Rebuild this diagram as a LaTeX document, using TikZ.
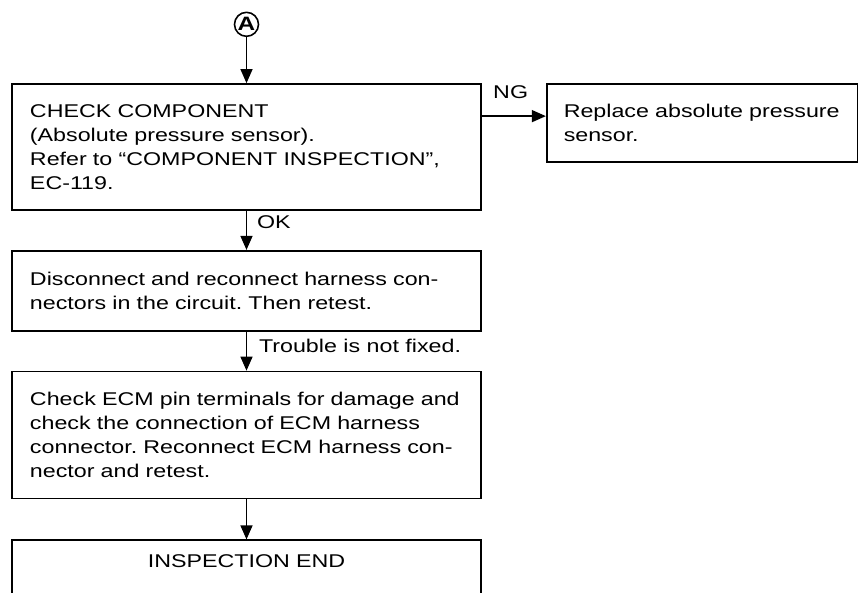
\documentclass[tikz,border=0pt]{standalone}
\usepackage{fontspec}
\setmainfont[FakeStretch=1.26]{Liberation Sans}
\usetikzlibrary{arrows.meta,positioning}
\frenchspacing

\begin{document}
\begin{tikzpicture}[node distance=0.78cm, thick, font=\fontsize{10.5pt}{13.6pt}\selectfont]
  % Styles
  \tikzstyle{stepbox} = [rectangle, draw, line width=1pt, minimum width=9.38cm, text width=8.66cm, align=left, inner sep=0pt]
  \tikzstyle{endbox} = [stepbox, align=center, inner ysep=0.1cm, text height=0.45cm, text depth=1.5cm]
  \tikzstyle{sidebox} = [rectangle, draw, line width=1pt, minimum width=6.22cm, text width=5.54cm, align=left, inner sep=0pt, minimum height=1.56cm]
  \tikzstyle{conn} = [circle, draw, line width=0.9pt, minimum size=0.48cm, inner sep=0pt, font=\fontsize{11pt}{11pt}\selectfont\bfseries]
  \tikzstyle{arrow} = [draw, line width=0.8pt, -{Triangle[length=0.28cm, width=0.24cm]}]

  \useasboundingbox (0,0) rectangle (17.16,-11.86);

  % Nodes
  \node[stepbox, minimum height=2.52cm] (check) at (4.93,-2.94) {CHECK COMPONENT\\(Absolute pressure sensor).\\Refer to “COMPONENT INSPECTION”,\\EC-119.};
  \node[conn, above=0.92cm of check] (circA) {A};
  \node[sidebox, right=1.28cm of check.north east, anchor=north west] (replace) {Replace absolute pressure\\sensor.};
  \node[stepbox, minimum height=1.6cm, below=of check] (reconnect) {Disconnect and reconnect harness con-\\nectors in the circuit. Then retest.};
  \node[stepbox, minimum height=2.54cm, below=of reconnect] (ecm) {Check ECM pin terminals for damage and\\check the connection of ECM harness\\connector. Reconnect ECM harness con-\\nector and retest.};
  \node[endbox, below=0.8cm of ecm] (inspend) {INSPECTION END};

  % Edges
  \path[arrow] (circA) -- (check);
  \path[arrow] ([yshift=-0.66cm]check.north east) -- node[pos=0.45, anchor=base, yshift=0.36cm] {NG} ([yshift=-0.66cm]replace.north west);
  \path[arrow] (check) -- node[right, pos=0.3, xshift=0.08cm] {OK} (reconnect);
  \path[arrow] (reconnect) -- node[right, pos=0.37, xshift=0.12cm] {Trouble is not fixed.} (ecm);
  \path[arrow] (ecm) -- (inspend);

\end{tikzpicture}
\end{document}
